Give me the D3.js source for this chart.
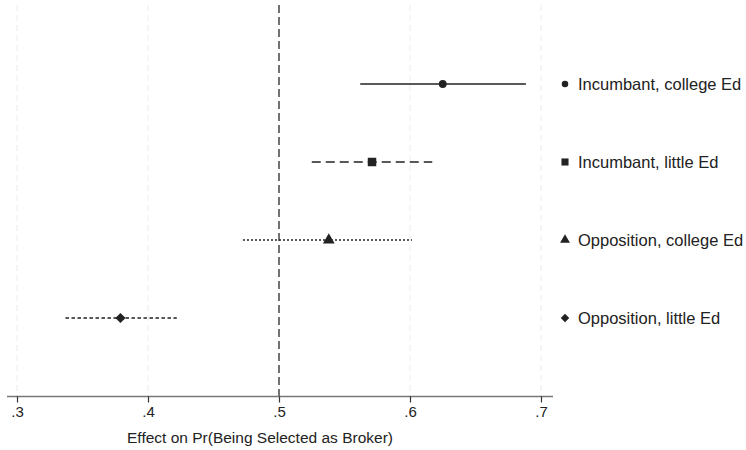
<!DOCTYPE html>
<html>
<head>
<meta charset="utf-8">
<title>Effect on Pr(Being Selected as Broker)</title>
<style>
  body { margin: 0; background: #fff; }
  svg { font-family: "Liberation Sans", Arial, sans-serif; }
  .tick text { fill: #222; }
</style>
</head>
<body>
<div id="chart"></div>
<script src="https://cdn.jsdelivr.net/npm/d3@7/dist/d3.min.js"></script>
<script>
// data, top row first
var groups = ['Incumbant, college Ed', 'Incumbant, little Ed', 'Opposition, college Ed', 'Opposition, little Ed'];
var estimates = [0.625, 0.571, 0.538, 0.379];
var lower = [0.562, 0.525, 0.4725, 0.337];
var upper = [0.6885, 0.617, 0.6015, 0.422];
var xTicks = [0.3, 0.4, 0.5, 0.6, 0.7];
var refValue = 0.5;

var width = 746, height = 450;
// diamond = square turned 45 degrees
var markers = [d3.symbolCircle, d3.symbolSquare, d3.symbolTriangle, d3.symbolSquare];
var markerRot = [0, 0, 0, 45];
var markerSize = [48, 72, 60, 52];
var dashes = [null, '9,5', '2,2', '3.5,2.5'];

var svg = d3.select('#chart').append('svg')
  .attr('width', width)
  .attr('height', height);

var x = d3.scaleLinear().domain([0.3, 0.7]).range([17, 541]);
var y = d3.scaleLinear().domain([0, groups.length + 1]).range([396, 6]);

// light grid at ticks
svg.append('g').selectAll('line')
  .data(xTicks.filter(function(d) { return d !== refValue; }))
  .enter().append('line')
  .attr('x1', function(d) { return x(d); })
  .attr('x2', function(d) { return x(d); })
  .attr('y1', 5).attr('y2', 396)
  .attr('stroke', '#ececec')
  .attr('stroke-width', 1)
  .attr('stroke-dasharray', '6,4');

// reference line
svg.append('line')
  .attr('x1', x(refValue)).attr('x2', x(refValue))
  .attr('y1', 5).attr('y2', 396)
  .attr('stroke', '#444')
  .attr('stroke-width', 1.5)
  .attr('stroke-dasharray', '8,4');

// axis
var axis = d3.axisBottom(x)
  .tickValues(xTicks)
  .tickSize(6)
  .tickPadding(4)
  .tickFormat(function(d) { return d3.format('.1f')(d).replace(/^0/, ''); });

var ax = svg.append('g')
  .attr('transform', 'translate(0,396.5)')
  .call(axis);
ax.select('.domain').attr('d', 'M7,0H553').attr('stroke', '#777').attr('stroke-width', 1.5);
ax.selectAll('.tick line').attr('stroke', '#333').attr('stroke-width', 1.2);
ax.selectAll('.tick text').style('font-size', '15px');

svg.append('text')
  .attr('x', (x(0.3) + x(0.7)) / 2 - 19)
  .attr('y', 443)
  .attr('text-anchor', 'middle')
  .style('font-size', '15.5px')
  .attr('fill', '#222')
  .text('Effect on Pr(Being Selected as Broker)');

// CIs
var rows = groups.map(function(g, i) {
  return { name: g, est: estimates[i], lo: lower[i], hi: upper[i], i: i, pos: groups.length - i };
});

svg.append('g').selectAll('line')
  .data(rows)
  .enter().append('line')
  .attr('x1', function(d) { return x(d.lo); })
  .attr('x2', function(d) { return x(d.hi); })
  .attr('y1', function(d) { return y(d.pos); })
  .attr('y2', function(d) { return y(d.pos); })
  .attr('stroke', '#222')
  .attr('stroke-width', 1.4)
  .attr('stroke-dasharray', function(d) { return dashes[d.i]; });

svg.append('g').selectAll('path')
  .data(rows)
  .enter().append('path')
  .attr('transform', function(d) {
    return 'translate(' + x(d.est) + ',' + y(d.pos) + ') rotate(' + markerRot[d.i] + ')';
  })
  .attr('d', function(d) { return d3.symbol().type(markers[d.i]).size(markerSize[d.i])(); })
  .attr('fill', '#222');

// legend on the right
var legend = svg.append('g').selectAll('g')
  .data(rows)
  .enter().append('g')
  .attr('transform', function(d) { return 'translate(565,' + y(d.pos) + ')'; });

legend.append('path')
  .attr('transform', function(d) { return 'rotate(' + markerRot[d.i] + ')'; })
  .attr('d', function(d) { return d3.symbol().type(markers[d.i]).size(markerSize[d.i] * 0.7)(); })
  .attr('fill', '#222');

legend.append('text')
  .attr('x', 13)
  .attr('dy', '0.35em')
  .style('font-size', '16.5px')
  .attr('fill', '#222')
  .text(function(d) { return d.name; });
</script>
</body>
</html>
